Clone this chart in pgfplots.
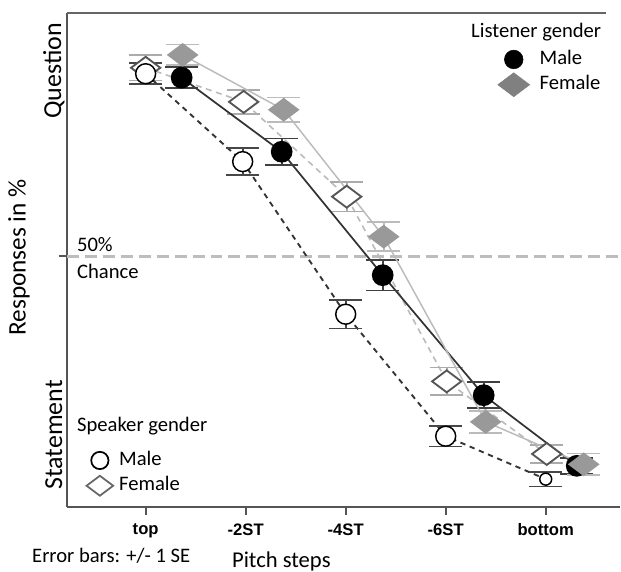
\documentclass[border=0pt]{standalone}
\usepackage{fontspec}
\setmainfont{Carlito}
\newfontfamily\tickfont{Liberation Sans}
\usepackage{pgfplots}
\pgfplotsset{compat=1.18}

\definecolor{axisgray}{HTML}{555555}
\definecolor{darkline}{HTML}{333333}
\definecolor{lightline}{HTML}{BBBBBB}
\definecolor{diafill}{HTML}{999999}
\definecolor{refline}{HTML}{BDBDBD}
\definecolor{opendia}{HTML}{555555}

\pgfplotstableread{
x     y     e
0.36  86.2  2.1
1.36  71.2  2.7
2.37  46.2  3.1
3.38  21.9  2.6
4.31  7.6   1.6
}\listmale
\pgfplotstableread{
x     y     e
0.37  90.8  2.1
1.38  79.7  2.5
2.38  54.0  2.9
3.40  16.5  2.2
4.38  7.9   2.2
}\listfemale
\pgfplotstableread{
x     y     e
0.00  87.0  2.1
0.97  69.2  2.7
2.00  38.3  2.9
3.00  13.6  2.1
4.00  4.9   1.5
}\spkmale
\pgfplotstableread{
x     y     e
0.00  88.2  2.6
0.98  81.3  2.4
2.01  62.1  3.0
3.01  24.7  2.8
4.01  10.0  1.8
}\spkfemale

\begin{document}
\begin{tikzpicture}
% page frame in reference pixels (axis corner at px 67,508)
\begin{scope}[x=0.75pt,y=-0.75pt,shift={(-50.25pt,381pt)}]
\path[use as bounding box] (0,0) rectangle (621,571);
\end{scope}

\begin{axis}[
  at={(0,0)}, anchor=south west,
  scale only axis, width=415.5pt, height=371.25pt,
  xmin=-0.788, xmax=4.738, ymin=-0.7, ymax=99.3,
  axis x line*=bottom, axis y line*=left,
  axis line style={axisgray, line width=1.5pt},
  xtick={0,1,2,3,4}, xticklabels={top,-2ST,-4ST,-6ST,bottom},
  ytick={50}, yticklabels={},
  tick align=outside, major tick length=6pt,
  tick style={axisgray, line width=1.5pt},
  xticklabel style={font=\tickfont\bfseries\fontsize{12.5}{13}\selectfont, yshift=-3pt},
  clip=false,
  legend cell align=left,
  legend style={draw=none, fill=none, at={(axis description cs:0.772,0.936)}, anchor=north west,
    font=\fontsize{15.5}{18}\selectfont, row sep=1pt,
    nodes={inner sep=1.5pt, text height=11pt, text depth=4pt},
    /tikz/every odd column/.append style={column sep=6pt}},
]
% chance line
\draw[refline, line width=2.2pt, dash pattern=on 9pt off 4.5pt] (axis cs:-0.788,50) -- (axis cs:4.738,50);
% top frame line
\draw[axisgray!90, line width=1.5pt] (axis cs:-0.788,99.3) -- (axis cs:4.6,99.3);

% female speaker (open diamonds, gray dashed)
\addplot[forget plot, lightline, line width=1.2pt, dash pattern=on 4.5pt off 3.5pt,
  mark=diamond*, mark size=11pt,
  mark options={solid, rotate=90, fill=white, draw=opendia, line width=1.4pt},
  error bars/.cd, y dir=both, y explicit,
  error bar style={solid, color=black!33, line width=1.3pt},
  error mark options={solid, rotate=90, color=black!33, line width=1.3pt, mark size=12.5pt}]
  table[x=x, y=y, y error=e] {\spkfemale};

% male speaker (open circles, black dashed)
\addplot[forget plot, darkline, line width=1.4pt, dash pattern=on 4pt off 3.5pt,
  mark=*, mark size=7.5pt, mark indices={1,2,3,4},
  mark options={solid, fill=white, draw=black, line width=1.1pt},
  error bars/.cd, y dir=both, y explicit,
  error bar style={solid, color=black!72, line width=1.3pt},
  error mark options={solid, rotate=90, color=black!72, line width=1.3pt, mark size=12.5pt}]
  table[x=x, y=y, y error=e] {\spkmale};
\addplot[forget plot, only marks, mark=*, mark size=4.5pt,
  mark options={fill=white, draw=black, line width=1.1pt}]
  coordinates {(4.00,4.9)};

% male listener (filled circles, dark solid)
\addplot[forget plot, darkline, line width=1.3pt,
  mark=*, mark size=7.5pt,
  mark options={solid, fill=black, draw=black},
  error bars/.cd, y dir=both, y explicit,
  error bar style={color=black!75, line width=1.3pt},
  error mark options={rotate=90, color=black!75, line width=1.3pt, mark size=12.5pt}]
  table[x=x, y=y, y error=e] {\listmale};

% female listener (filled gray diamonds, light solid)
\addplot[forget plot, lightline, line width=1.1pt,
  mark=diamond*, mark size=11pt,
  mark options={solid, rotate=90, fill=diafill, draw=diafill},
  error bars/.cd, y dir=both, y explicit,
  error bar style={color=lightline, line width=1.3pt},
  error mark options={rotate=90, color=lightline, line width=1.3pt, mark size=12.5pt}]
  table[x=x, y=y, y error=e] {\listfemale};

\addlegendimage{only marks, mark=*, mark size=7pt, mark options={fill=black, draw=black}}
\addlegendentry{Male}
\addlegendimage{only marks, mark=diamond*, mark size=12pt, mark options={rotate=90, fill=black!50, draw=black!50}}
\addlegendentry{Female}
\end{axis}

% speaker legend on a second, hidden axis
\begin{axis}[
  at={(0,0)}, anchor=south west,
  scale only axis, width=415.5pt, height=371.25pt,
  xmin=-0.788, xmax=4.738, ymin=-0.7, ymax=99.3,
  hide axis,
  legend cell align=left,
  legend style={draw=none, fill=none, at={(axis description cs:0.028,0.124)}, anchor=north west,
    font=\fontsize{15.5}{18}\selectfont, row sep=1pt,
    nodes={inner sep=1.5pt, text height=11pt, text depth=4pt},
    /tikz/every odd column/.append style={column sep=3pt}},
]
\addlegendimage{only marks, mark=*, mark size=6.5pt, mark options={fill=white, draw=black, line width=1.3pt}}
\addlegendentry{Male}
\addlegendimage{only marks, mark=diamond*, mark size=10pt, mark options={rotate=90, fill=white, draw=black!60, line width=1.3pt}}
\addlegendentry{Female}
\end{axis}

% texts placed in reference pixels
\begin{scope}[x=0.75pt,y=-0.75pt,shift={(-50.25pt,381pt)}]
\node[rotate=90, font=\fontsize{19}{22}\selectfont] at (19,258) {Responses in \%};
\node[rotate=90, font=\fontsize{19.5}{22}\selectfont] at (54,71) {Question};
\node[rotate=90, font=\fontsize{19.5}{22}\selectfont] at (54,436) {Statement};
\node[anchor=west, inner sep=0pt, font=\fontsize{15.5}{18}\selectfont] at (77,245) {50\%};
\node[anchor=west, inner sep=0pt, font=\fontsize{15.5}{18}\selectfont] at (77,272) {Chance};
\node[anchor=west, inner sep=0pt, font=\fontsize{15.5}{18}\selectfont] at (472,32) {Listener gender};
\node[anchor=west, inner sep=0pt, font=\fontsize{15.5}{18}\selectfont] at (77,427) {Speaker gender};
\node[anchor=west, inner sep=0pt, font=\fontsize{15.5}{18}\selectfont] at (32,557) {Error bars: +/- 1 SE};
\node[inner sep=0pt, font=\fontsize{17}{20}\selectfont] at (282,563) {Pitch steps};
\end{scope}
\end{tikzpicture}
\end{document}
